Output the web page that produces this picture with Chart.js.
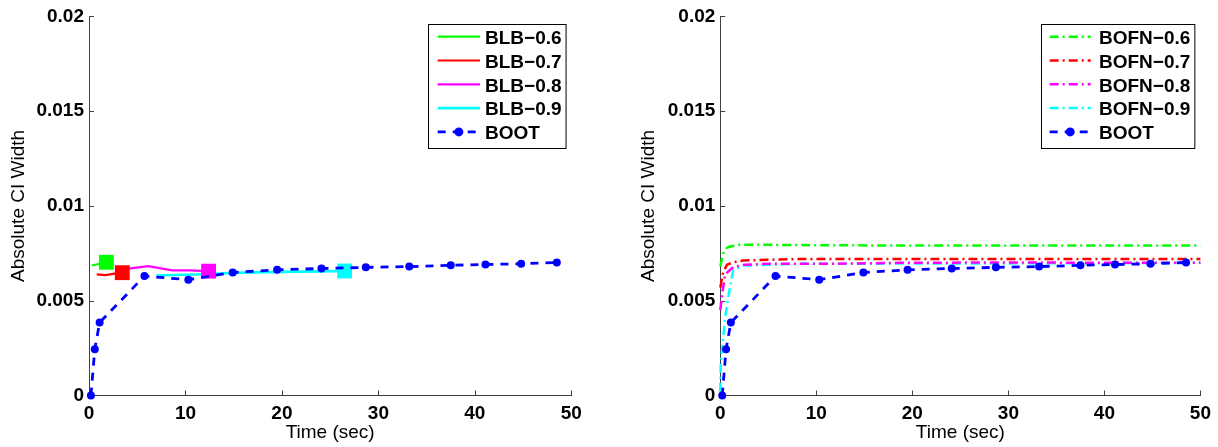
<!DOCTYPE html>
<html>
<head>
<meta charset="utf-8">
<script src="https://cdn.jsdelivr.net/npm/chart.js"></script>
<style>
  html, body { margin: 0; padding: 0; background: #fff; }
  body { width: 1218px; height: 447px; position: relative; overflow: hidden; }
  .panel { position: absolute; top: 0; height: 447px; }
  #p1 { left: 0; width: 620px; }
  #p2 { left: 630px; width: 588px; }
</style>
</head>
<body>
<div class="panel" id="p1"><canvas id="c1"></canvas></div>
<div class="panel" id="p2"><canvas id="c2"></canvas></div>
<script>
// ---------- data ----------
const xTickLabels = ['0', '10', '20', '30', '40', '50'];
const yTickLabels = ['0', '0.005', '0.01', '0.015', '0.02'];

const bootTime  = [0.2, 0.6, 1.1, 5.75, 10.3, 14.9, 19.5, 24.1, 28.7, 33.2, 37.5, 41.1, 44.8, 48.5];
const bootWidth = [0, 0.00244, 0.00385, 0.0063, 0.00611, 0.00649, 0.00663, 0.0067, 0.00676, 0.0068, 0.00687, 0.00691, 0.00695, 0.00702];

const blb06Time  = [0.3, 1.8];
const blb06Width = [0.00686, 0.00703];
const blb07Time  = [0.8, 1.7, 2.5, 3.45];
const blb07Width = [0.00639, 0.00635, 0.00642, 0.00648];
const blb08Time  = [3.6, 4.1, 6.15, 8.6, 10.5, 12.4];
const blb08Width = [0.00662, 0.00669, 0.00682, 0.0066, 0.0066, 0.00656];
const blb09Time  = [7.0, 12.0, 15.0, 20.0, 24.0, 26.5];
const blb09Width = [0.00633, 0.0064, 0.00647, 0.00652, 0.00655, 0.00657];

const bofn06Time  = [0, 0.3, 0.7, 1.0, 1.5, 2.0, 3, 5, 10, 20, 30, 40, 50];
const bofn06Width = [0.0068, 0.0075, 0.0078, 0.00786, 0.0079, 0.00795, 0.00795, 0.00795, 0.00793, 0.00791, 0.00791, 0.00791, 0.00791];
const bofn07Time  = [0, 0.3, 0.7, 1.35, 2.4, 4.8, 8.3, 20, 30, 40, 50];
const bofn07Width = [0.0057, 0.0065, 0.0069, 0.00703, 0.00712, 0.00716, 0.0072, 0.0072, 0.0072, 0.0072, 0.0072];
const bofn08Time  = [0, 0.15, 0.5, 1.35, 2.5, 4.8, 11.7, 18.7, 30, 40, 50];
const bofn08Width = [0.0045, 0.0052, 0.0064, 0.00677, 0.0069, 0.00695, 0.00695, 0.007, 0.00702, 0.007, 0.007];
const bofn09Time  = [0, 0.05, 0.2, 0.5, 1.0, 1.35, 2.4, 5, 8.3, 20, 30, 40, 50];
const bofn09Width = [0.0002, 0.0017, 0.0025, 0.0041, 0.0057, 0.0066, 0.00686, 0.0069, 0.00695, 0.00696, 0.00697, 0.00698, 0.007];

// ---------- helpers ----------
const FONT = '"Liberation Sans", Arial, Helvetica, sans-serif';
const pts = (xs, ys) => xs.map((x, i) => ({ x: x, y: ys[i] }));

function bootSet() {
  return {
    label: 'BOOT', data: pts(bootTime, bootWidth),
    borderColor: '#0000ff', backgroundColor: '#0000ff',
    borderWidth: 2.8, borderDash: [8, 7],
    pointRadius: 4, pointBorderWidth: 0, pointBackgroundColor: '#0000ff',
    showLine: true, tension: 0, clip: false, legendDot: true
  };
}
function blbSet(label, xs, ys, color, width) {
  const n = xs.length;
  return {
    label: label, data: pts(xs, ys),
    borderColor: color, backgroundColor: color, borderWidth: width,
    pointStyle: 'rect', pointBorderWidth: 0, pointBackgroundColor: color,
    pointRadius: ctx => (ctx.dataIndex === n - 1 ? 10.5 : 0),
    showLine: true, tension: 0, clip: false
  };
}
function bofnSet(label, xs, ys, color) {
  return {
    label: label, data: pts(xs, ys),
    borderColor: color, backgroundColor: color, borderWidth: 2.5,
    borderDash: [9, 4, 2, 4],
    pointRadius: 0, showLine: true, tension: 0, clip: false
  };
}

// inward tick marks (MATLAB style)
const inTicks = {
  id: 'inTicks',
  beforeDatasetsDraw(chart) {
    const ctx = chart.ctx, ca = chart.chartArea;
    const xs = chart.scales.x, ys = chart.scales.y;
    ctx.save();
    ctx.strokeStyle = '#404040';
    ctx.lineWidth = 1;
    ctx.beginPath();
    xs.ticks.forEach(t => {
      const p = Math.round(xs.getPixelForValue(t.value)) + 0.5;
      ctx.moveTo(p, ca.bottom); ctx.lineTo(p, ca.bottom - 5);
    });
    ys.ticks.forEach(t => {
      const p = Math.round(ys.getPixelForValue(t.value)) + 0.5;
      ctx.moveTo(ca.left, p); ctx.lineTo(ca.left + 5, p);
    });
    ctx.stroke();
    ctx.restore();
  }
};

// boxed legend with line samples
const boxLegend = {
  id: 'boxLegend',
  afterDatasetsDraw(chart, args, opts) {
    const ctx = chart.ctx, ca = chart.chartArea;
    const dsets = chart.data.datasets;
    ctx.save();
    ctx.font = 'bold 19px ' + FONT;
    let maxW = 0;
    opts.items.forEach(i => { maxW = Math.max(maxW, ctx.measureText(dsets[i].label).width); });
    const w = opts.textX + maxW + 4, h = 124;
    const x0 = Math.round(ca.right - 6 - w), y0 = Math.round(ca.top + 8);
    ctx.fillStyle = '#fff';
    ctx.fillRect(x0, y0, w, h);
    ctx.strokeStyle = '#000';
    ctx.lineWidth = 1;
    ctx.strokeRect(x0 + 0.5, y0 + 0.5, w, h);
    opts.items.forEach((di, k) => {
      const ds = dsets[di];
      const y = y0 + 12.7 + k * 23.8;
      ctx.beginPath();
      ctx.setLineDash(ds.borderDash || []);
      ctx.lineWidth = ds.borderWidth;
      ctx.strokeStyle = ds.borderColor;
      ctx.moveTo(x0 + opts.s0, y);
      ctx.lineTo(x0 + opts.s1, y);
      ctx.stroke();
      ctx.setLineDash([]);
      if (ds.legendDot) {
        ctx.fillStyle = ds.borderColor;
        ctx.beginPath();
        ctx.arc(x0 + (opts.s0 + opts.s1) / 2, y, 4.5, 0, Math.PI * 2);
        ctx.fill();
      }
      ctx.fillStyle = '#000';
      ctx.textAlign = 'left';
      ctx.textBaseline = 'middle';
      ctx.fillText(ds.label, x0 + opts.textX, y + 2);
    });
    ctx.restore();
  }
};

function makeOptions(yAxisWidth, padRight, legendOpts) {
  return {
    responsive: true,
    maintainAspectRatio: false,
    animation: false,
    events: [],
    layout: { padding: { top: 15, right: padRight, left: 0, bottom: 0 } },
    plugins: {
      legend: { display: false },
      tooltip: { enabled: false },
      boxLegend: legendOpts
    },
    scales: {
      x: {
        type: 'linear', min: 0, max: 50,
        afterFit: s => { s.height = 51.5; },
        grid: { display: true, drawOnChartArea: false, drawTicks: false },
        border: { display: true, color: '#404040', width: 1 },
        ticks: {
          stepSize: 10, padding: 7, color: '#000',
          font: { family: FONT, size: 19, weight: 'bold' },
          callback: (v, i) => xTickLabels[i]
        },
        title: {
          display: true, text: 'Time (sec)', color: '#000',
          font: { family: FONT, size: 19, weight: 'normal' },
          padding: { top: 0, bottom: 3.3 }
        }
      },
      y: {
        type: 'linear', min: 0, max: 0.02,
        afterFit: s => { s.width = yAxisWidth; },
        grid: { display: true, drawOnChartArea: false, drawTicks: false },
        border: { display: true, color: '#404040', width: 1 },
        ticks: {
          stepSize: 0.005, padding: 5, color: '#000',
          font: { family: FONT, size: 19, weight: 'bold' },
          callback: (v, i) => yTickLabels[i]
        },
        title: {
          display: true, text: 'Absolute CI Width', color: '#000',
          font: { family: FONT, size: 19, weight: 'normal' },
          padding: { top: 7.5, bottom: 0 }
        }
      }
    }
  };
}

new Chart(document.getElementById('c1'), {
  type: 'scatter',
  data: {
    datasets: [
      bootSet(),
      blbSet('BLB\u22120.6', blb06Time, blb06Width, '#00ff00', 2.2),
      blbSet('BLB\u22120.7', blb07Time, blb07Width, '#ff0000', 2.2),
      blbSet('BLB\u22120.8', blb08Time, blb08Width, '#ff00ff', 2.2),
      blbSet('BLB\u22120.9', blb09Time, blb09Width, '#00ffff', 2.6)
    ]
  },
  options: makeOptions(89, 620 - 571.3, { items: [1, 2, 3, 4, 0], s0: 9.7, s1: 52, textX: 57 }),
  plugins: [inTicks, boxLegend]
});

new Chart(document.getElementById('c2'), {
  type: 'scatter',
  data: {
    datasets: [
      bootSet(),
      bofnSet('BOFN\u22120.6', bofn06Time, bofn06Width, '#00ff00'),
      bofnSet('BOFN\u22120.7', bofn07Time, bofn07Width, '#ff0000'),
      bofnSet('BOFN\u22120.8', bofn08Time, bofn08Width, '#ff00ff'),
      bofnSet('BOFN\u22120.9', bofn09Time, bofn09Width, '#00ffff')
    ]
  },
  options: makeOptions(90.3, 588 - 572.3, { items: [1, 2, 3, 4, 0], s0: 8.7, s1: 49.7, textX: 58 }),
  plugins: [inTicks, boxLegend]
});
</script>
</body>
</html>
